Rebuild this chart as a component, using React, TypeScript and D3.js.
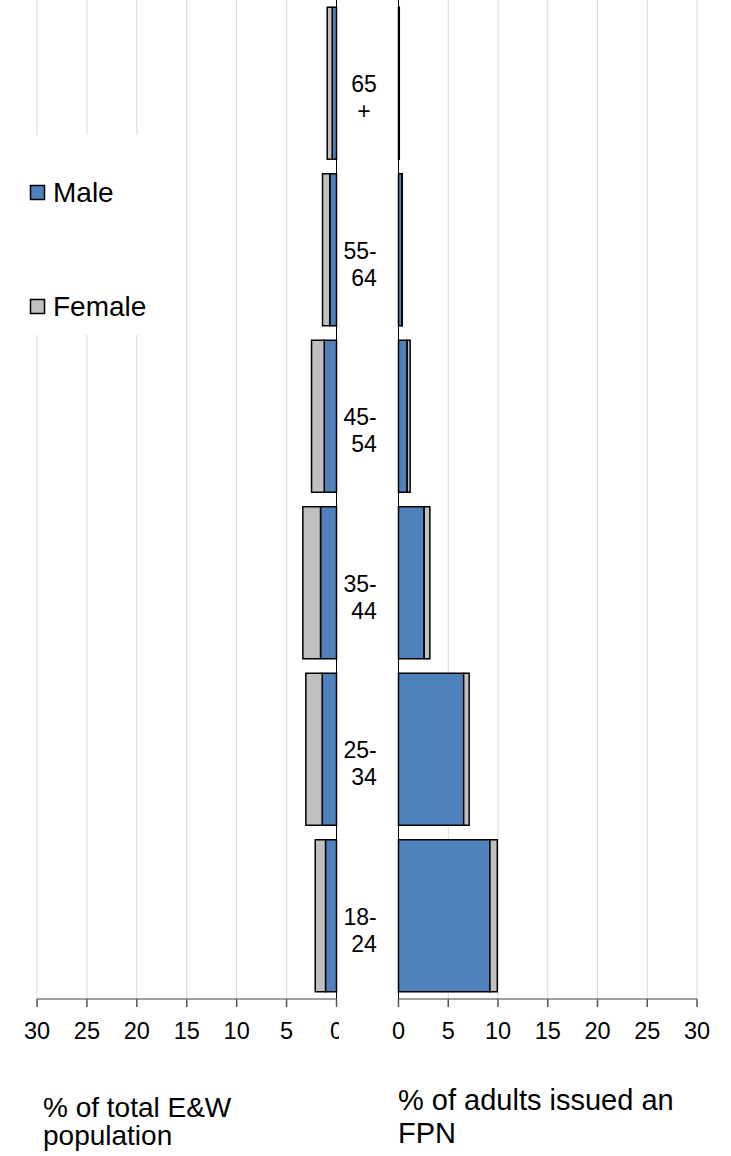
import React from "react";
import * as d3 from "d3";

const categories = ["18-24", "25-34", "35-44", "45-54", "55-64", "65+"];
const categoryLines = [["18-", "24"], ["25-", "34"], ["35-", "44"], ["45-", "54"], ["55-", "64"], ["65", "+"]];
const popMale = [1.1, 1.43, 1.6, 1.23, 0.67, 0.43];
const popFemale = [1.03, 1.64, 1.77, 1.27, 0.73, 0.5];
const fpnMale = [9.19, 6.55, 2.58, 0.87, 0.36, 0.08];
const fpnFemale = [0.74, 0.55, 0.57, 0.3, 0.02, 0.0];
const tickValues = [0, 5, 10, 15, 20, 25, 30];
const seriesNames = ["Male", "Female"];
const seriesColors = ["#4f81bd", "#c0c0c0"];
const leftTitle = ["% of total E&W", "population"];
const rightTitle = ["% of adults issued an", "FPN"];

const W = 731;
const H = 1156;
const FONT = "'Liberation Sans', Arial, sans-serif";

export default function App() {
  const xL = d3.scaleLinear().domain([0, 30]).range([336.5, 37]);
  const xR = d3.scaleLinear().domain([0, 30]).range([398.5, 697]);
  const y = d3
    .scaleBand<string>()
    .domain([...categories].reverse())
    .range([0, 999])
    .paddingInner(0.087)
    .paddingOuter(0.0435);
  const axisY = 999;

  const rows = categories.map((c, i) => ({
    c,
    lines: categoryLines[i],
    pm: popMale[i],
    pf: popFemale[i],
    fm: fpnMale[i],
    ff: fpnFemale[i],
  }));

  return (
    <div style={{ position: "absolute", left: 0, top: 0 }}>
      <svg width={W} height={H} style={{ display: "block", background: "#fff" }} fontFamily={FONT}>
        <defs>
          <clipPath id="leftClip">
            <rect x={0} y={0} width={339} height={H} />
          </clipPath>
        </defs>
        {/* gridlines */}
        {tickValues.filter((t) => t > 0).map((t) => (
          <line key={"gl" + t} x1={xL(t)} x2={xL(t)} y1={0} y2={axisY} stroke="#d9d9d9" strokeWidth={1} />
        ))}
        {tickValues.filter((t) => t > 0).map((t) => (
          <line key={"gr" + t} x1={xR(t)} x2={xR(t)} y1={0} y2={axisY} stroke="#d9d9d9" strokeWidth={1} />
        ))}
        {/* legend background */}
        <rect x={0} y={135} width={183} height={200} fill="#fff" />
        {seriesNames.map((s, i) => (
          <g key={s}>
            <rect x={30.5} y={185.5 + i * 114} width={14} height={14} fill={seriesColors[i]} stroke="#000" strokeWidth={1.5} />
            <text x={53} y={201.5 + i * 114} fontSize={28} fill="#000">{s}</text>
          </g>
        ))}
        {/* bars */}
        {rows.map((r) => {
          const by = y(r.c)!;
          const bh = y.bandwidth();
          return (
            <g key={r.c}>
              <rect x={xL(r.pm)} y={by} width={xL(0) - xL(r.pm)} height={bh} fill={seriesColors[0]} stroke="#000" strokeWidth={1.5} />
              <rect x={xL(r.pm + r.pf)} y={by} width={xL(r.pm) - xL(r.pm + r.pf)} height={bh} fill={seriesColors[1]} stroke="#000" strokeWidth={1.5} />
              <rect x={xR(0)} y={by} width={xR(r.fm) - xR(0)} height={bh} fill={seriesColors[0]} stroke="#000" strokeWidth={1.5} />
              <rect x={xR(r.fm)} y={by} width={xR(r.fm + r.ff) - xR(r.fm)} height={bh} fill={seriesColors[1]} stroke="#000" strokeWidth={1.5} />
            </g>
          );
        })}
        {/* category axis lines */}
        <line x1={xL(0)} x2={xL(0)} y1={0} y2={axisY} stroke="#000" strokeWidth={1} />
        <line x1={xR(0)} x2={xR(0)} y1={0} y2={axisY} stroke="#000" strokeWidth={1} />
        {/* category labels */}
        {rows.map((r) => {
          const cy = y(r.c)! + y.bandwidth() / 2;
          return (
            <g key={"lab" + r.c}>
              {r.lines.map((ln, j) => (
                <text
                  key={j}
                  x={364 + (ln.endsWith("-") ? -4 : 0)}
                  y={cy + 9 + j * 27}
                  fontSize={23}
                  textAnchor="middle"
                  fill="#000"
                >
                  {ln}
                </text>
              ))}
            </g>
          );
        })}
        {/* value axes */}
        <line x1={xL(30)} x2={xL(0)} y1={axisY} y2={axisY} stroke="#808080" strokeWidth={1.5} />
        <line x1={xR(0)} x2={xR(30)} y1={axisY} y2={axisY} stroke="#808080" strokeWidth={1.5} />
        {tickValues.map((t) => (
          <g key={"t" + t}>
            <line x1={xL(t)} x2={xL(t)} y1={axisY} y2={axisY + 8} stroke="#555" strokeWidth={1.5} />
            <line x1={xR(t)} x2={xR(t)} y1={axisY} y2={axisY + 8} stroke="#555" strokeWidth={1.5} />
          </g>
        ))}
        <g clipPath="url(#leftClip)">
          {tickValues.map((t) => (
            <text key={"tl" + t} x={xL(t)} y={1039} fontSize={23.5} textAnchor="middle" fill="#000">{t}</text>
          ))}
        </g>
        {tickValues.map((t) => (
          <text key={"tr" + t} x={xR(t)} y={1039} fontSize={23.5} textAnchor="middle" fill="#000">{t}</text>
        ))}
        {/* titles */}
        {leftTitle.map((ln, j) => (
          <text key={"lt" + j} x={43} y={1116.5 + j * 28.5} fontSize={28} fill="#000">{ln}</text>
        ))}
        {rightTitle.map((ln, j) => (
          <text key={"rt" + j} x={398} y={1110 + j * 33} fontSize={29} fill="#000">{ln}</text>
        ))}
      </svg>
    </div>
  );
}
